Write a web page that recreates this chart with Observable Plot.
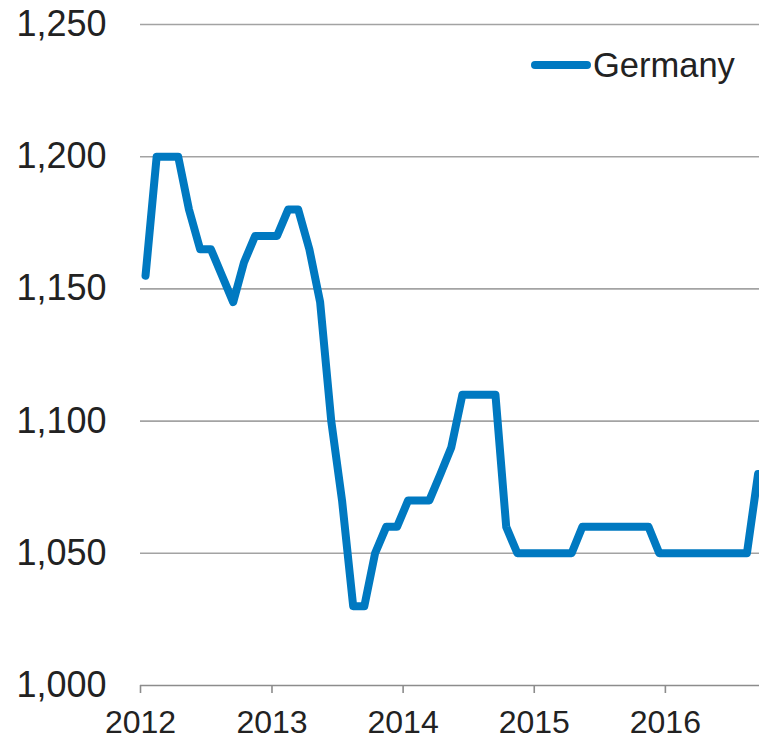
<!DOCTYPE html>
<html>
<head>
<meta charset="utf-8">
<script src="https://cdn.jsdelivr.net/npm/d3@7"></script>
<script src="https://cdn.jsdelivr.net/npm/@observablehq/plot@0.6"></script>
<style>
  html, body { margin: 0; padding: 0; background: #fff; }
  #wrap { position: relative; width: 759px; height: 740px; font-family: "Liberation Sans", Arial, sans-serif; }
  #legend { position: absolute; left: 531px; top: 46px; display: flex; align-items: center; height: 38px; }
  #legend .swatch { width: 60px; height: 8px; border-radius: 4px; background: #0079c1; }
  #legend .label { font-size: 34.5px; color: #222; margin-left: 2px; line-height: 1; }
</style>
</head>
<body>
<div id="wrap"><div id="legend"></div></div>
<script>
// Monthly observations (mid-month), Germany
const months = [
  "2012-01","2012-02","2012-03","2012-04","2012-05","2012-06","2012-07","2012-08","2012-09","2012-10","2012-11","2012-12",
  "2013-01","2013-02","2013-03","2013-04","2013-05","2013-06","2013-07","2013-08","2013-09","2013-10","2013-11","2013-12",
  "2014-01","2014-02","2014-03","2014-04","2014-05","2014-06","2014-07","2014-08","2014-09","2014-10","2014-11","2014-12",
  "2015-01","2015-02","2015-03","2015-04","2015-05","2015-06","2015-07","2015-08","2015-09","2015-10","2015-11","2015-12",
  "2016-01","2016-02","2016-03","2016-04","2016-05","2016-06","2016-07","2016-08","2016-09"
];
const germany = [
  1155,1200,1200,1200,1180,1165,1165,1155,1145,1160,1170,1170,
  1170,1180,1180,1165,1145,1100,1070,1030,1030,1050,1060,1060,
  1070,1070,1070,1080,1090,1110,1110,1110,1110,1060,1050,1050,
  1050,1050,1050,1050,1060,1060,1060,1060,1060,1060,1060,1050,
  1050,1050,1050,1050,1050,1050,1050,1050,1080
];
const seriesName = "Germany";
const yTicks = [1000, 1050, 1100, 1150, 1200, 1250];
const gridTicks = [1050, 1100, 1150, 1200, 1250];
const xTickYears = ["2012", "2013", "2014", "2015", "2016"];
const xDomain = ["2012-01-01", "2016-09-19"];

const data = months.map((m, i) => ({ date: new Date(m + "-15T00:00:00Z"), value: germany[i] }));
const xTicks = xTickYears.map(y => new Date(y + "-01-01T00:00:00Z"));

const blue = "#0079c1";
const grid = "#a3a3a3";

const chart = Plot.plot({
  width: 759,
  height: 740,
  marginLeft: 140,
  marginRight: 0,
  marginTop: 24,
  marginBottom: 55,
  style: { fontFamily: "'Liberation Sans', Arial, sans-serif", color: "#222", background: "#fff", overflow: "visible" },
  x: { type: "utc", domain: xDomain.map(d => new Date(d + "T00:00:00Z")) },
  y: { domain: [1000, 1250] },
  marks: [
    Plot.ruleY(gridTicks, { stroke: grid, strokeWidth: 1.6 }),
    Plot.ruleY([1000], { stroke: "#8c8c8c", strokeWidth: 1.6 }),
    Plot.axisY(yTicks, {
      tickSize: 0, tickPadding: 34, tickFormat: d3.format(","),
      fontSize: 36, fill: "#222", label: null
    }),
    Plot.axisX(xTicks, {
      tickSize: 8, tickPadding: 17, tickFormat: d3.utcFormat("%Y"),
      fontSize: 32, fill: "#222", stroke: "#8c8c8c", strokeWidth: 1.6, label: null
    }),
    Plot.line(data, {
      x: "date", y: "value", stroke: blue, strokeWidth: 8,
      strokeLinejoin: "round", strokeLinecap: "round", clip: true
    })
  ]
});
const wrap = document.getElementById("wrap");
wrap.insertBefore(chart, wrap.firstChild);

const legend = document.getElementById("legend");
legend.innerHTML = `<div class="swatch"></div><div class="label">${seriesName}</div>`;
</script>
</body>
</html>
